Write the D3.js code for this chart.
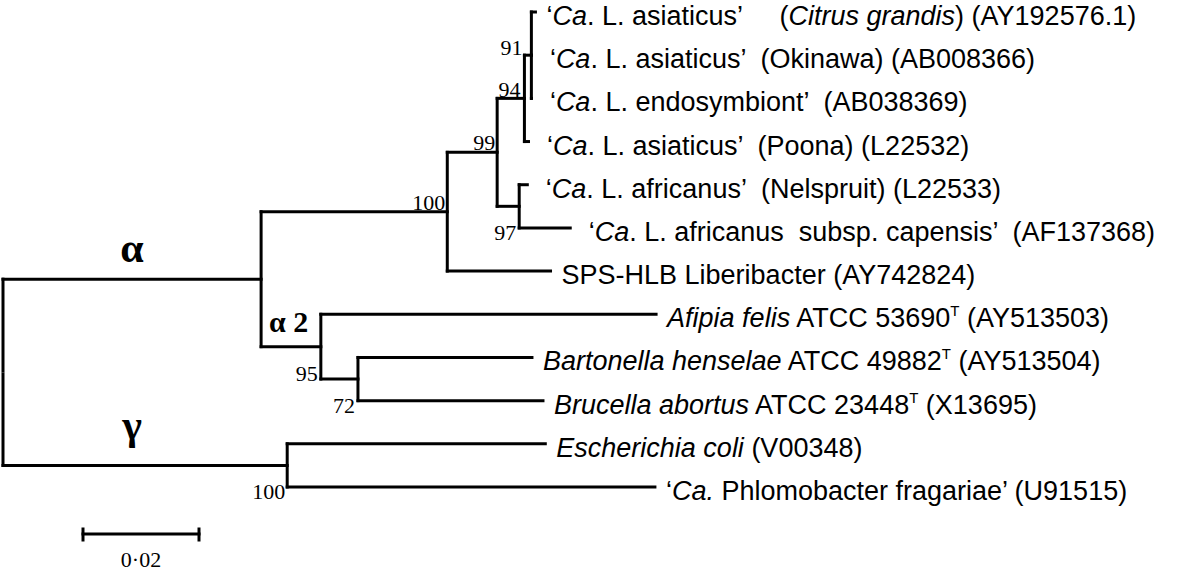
<!DOCTYPE html>
<html>
<head>
<meta charset="utf-8">
<script src="https://cdn.jsdelivr.net/npm/d3@7"></script>
<style>
body { margin: 0; background: #fff; }
svg { display: block; }
.branch { fill: none; stroke: #000; stroke-width: 3; stroke-linecap: square; }
.taxon { font: 27px "Liberation Sans", Arial, sans-serif; white-space: pre; }
.boot { font: 22px "Liberation Serif", "Times New Roman", serif; }
.clade { font-family: "Liberation Serif", "Times New Roman", serif; font-weight: bold; }
</style>
</head>
<body>
<svg id="chart" width="1184" height="571"></svg>
<script>
// tree topology, listed in drawing order (parent before children)
const nodeIds = ['root', 'alpha', 'n100', 'n99', 'n94', 'n91', 'citrus', 'okinawa', 'endo',
  'poona', 'n97', 'nelspruit', 'capensis', 'sps', 'n95', 'afipia', 'n72', 'bartonella',
  'brucella', 'gamma', 'ecoli', 'phlomo'];
const parentIds = ['', 'root', 'alpha', 'n100', 'n99', 'n94', 'n91', 'n91', 'n91',
  'n94', 'n99', 'n97', 'n97', 'n100', 'alpha', 'n95', 'n95', 'n72',
  'n72', 'root', 'gamma', 'gamma'];
// branch lengths, substitutions per site
const branchLengths = [0, 0.0445, 0.0321, 0.0086, 0.0047, 0.0012, 0.0007, 0, 0,
  0.0007, 0.0038, 0.0014, 0.0088, 0.0178, 0.0103, 0.0578, 0.0064, 0.0300,
  0.0319, 0.0490, 0.0445, 0.0634];

// bootstrap values (%)
const bootNodes = ['n91', 'n94', 'n99', 'n100', 'n97', 'n95', 'n72', 'gamma'];
const bootValues = [91, 94, 99, 100, 97, 95, 72, 100];

// leaf labels, <i> = italic, <sup> = superscript
const leafIds = ['citrus', 'okinawa', 'endo', 'poona', 'nelspruit', 'capensis', 'sps',
  'afipia', 'bartonella', 'brucella', 'ecoli', 'phlomo'];
const leafLabels = [
  '‘<i>Ca</i>. L. asiaticus’     (<i>Citrus grandis</i>) (AY192576.1)',
  ' ‘<i>Ca</i>. L. asiaticus’  (Okinawa) (AB008366)',
  ' ‘<i>Ca</i>. L. endosymbiont’  (AB038369)',
  ' ‘<i>Ca</i>. L. asiaticus’  (Poona) (L22532)',
  ' ‘<i>Ca</i>. L. africanus’  (Nelspruit) (L22533)',
  ' ‘<i>Ca</i>. L. africanus  subsp. capensis’  (AF137368)',
  'SPS-HLB Liberibacter (AY742824)',
  '<i>Afipia felis</i> ATCC 53690<sup>T</sup> (AY513503)',
  '<i>Bartonella henselae</i> ATCC 49882<sup>T</sup> (AY513504)',
  '<i>Brucella abortus</i> ATCC 23448<sup>T</sup> (X13695)',
  '<i>Escherichia coli</i> (V00348)',
  '‘<i>Ca.</i> Phlomobacter fragariae’ (U91515)'
];

// clade names
const cladeNodes = ['alpha', 'n95', 'gamma'];
const cladeNames = ['α', 'α 2', 'γ'];

const scaleBarValue = 0.02;
const scaleBarLabel = '0·02';

// ---- layout ----
const svg = d3.select('#chart');

const rows = nodeIds.map((id, i) => ({ id, parent: parentIds[i] || null, len: branchLengths[i] }));
const root = d3.stratify().id(d => d.id).parentId(d => d.parent)(rows);
root.eachBefore(n => { n.dist = n.parent ? n.parent.dist + n.data.len : 0; });

const x = d3.scaleLinear().domain([0, 0.1]).range([3, 583]);
const y = d3.scalePoint().domain(leafIds).range([12, 487]);

root.eachAfter(n => {
  n.px = x(n.dist);
  if (n.children) {
    n.py = (n.children[0].py + n.children[n.children.length - 1].py) / 2;
  } else {
    n.py = y(n.id);
  }
});

const nodes = root.descendants();
const byId = new Map(nodes.map(n => [n.id, n]));
const g = svg.append('g');

// horizontal branches
g.selectAll('line.h')
  .data(nodes.filter(n => n.parent))
  .join('line')
  .attr('class', 'branch')
  .attr('x1', d => d.parent.px).attr('x2', d => d.px)
  .attr('y1', d => d.py).attr('y2', d => d.py);

// vertical connectors (root drawn with a small break at its midpoint)
const verts = [];
nodes.filter(n => n.children).forEach(n => {
  const y0 = n.children[0].py, y1 = n.children[n.children.length - 1].py;
  if (n === root) {
    verts.push({ x: n.px, y0, y1: n.py - 1.5 }, { x: n.px, y0: n.py + 1.5, y1 });
  } else {
    verts.push({ x: n.px, y0, y1 });
  }
});
g.selectAll('line.v')
  .data(verts)
  .join('line')
  .attr('class', 'branch')
  .attr('x1', d => d.x).attr('x2', d => d.x)
  .attr('y1', d => d.y0).attr('y2', d => d.y1);

// leaf labels
function addRich(sel, str) {
  let italic = false, sup = false, wasSup = false;
  str.split(/(<\/?i>|<\/?sup>)/).forEach(part => {
    if (part === '<i>') { italic = true; return; }
    if (part === '</i>') { italic = false; return; }
    if (part === '<sup>') { sup = true; return; }
    if (part === '</sup>') { sup = false; return; }
    if (!part) return;
    const t = sel.append('tspan').text(part);
    if (italic) t.attr('font-style', 'italic');
    if (sup) t.attr('font-size', 15).attr('dy', -11);
    else if (wasSup) t.attr('dy', 11);
    wasSup = sup;
  });
}

const leafGap = 11;
leafIds.forEach((id, i) => {
  const n = byId.get(id);
  const t = g.append('text')
    .attr('class', 'taxon')
    .attr('x', n.px + leafGap)
    .attr('y', n.py + 13);
  addRich(t, leafLabels[i]);
});

// bootstrap labels: offset from node, 'up' sits above the incoming branch,
// 'down' sits below the lower child
const bootPlace = { n91: [-9, 0, 'up'], n94: [-4, -1, 'up'], n99: [-2, -2, 'up'], n100: [-2, -2, 'up'],
  n97: [-3, 12, 'down'], n95: [-3, 2, 'down'], n72: [-3, 12, 'down'], gamma: [-2, 12, 'down'] };
g.selectAll('text.boot')
  .data(bootNodes.map((id, i) => ({ node: byId.get(id), value: bootValues[i], place: bootPlace[id] })))
  .join('text')
  .attr('class', 'boot')
  .attr('text-anchor', 'end')
  .attr('x', d => d.node.px + d.place[0])
  .attr('y', d => {
    const c = d.node.children;
    const base = d.place[2] === 'up' ? d.node.py : c[c.length - 1].py;
    return base + d.place[1];
  })
  .text(d => d.value);

// clade names
const alphaNode = byId.get('alpha');
const cladeX = (x(0) + alphaNode.px) / 2;
cladeNodes.forEach((id, i) => {
  const n = byId.get(id);
  const t = g.append('text').attr('class', 'clade').text(cladeNames[i]);
  if (id === 'n95') {
    t.attr('x', n.parent.px + 8).attr('y', n.py - 15).attr('font-size', 30);
  } else {
    t.attr('x', cladeX).attr('y', n.py - (id === 'gamma' ? 26 : 17))
      .attr('text-anchor', 'middle').attr('font-size', 42);
  }
});

// scale bar
const barX0 = 83, barY = 534;
const barLen = x(scaleBarValue) - x(0);
const bar = g.append('g').attr('transform', `translate(${barX0},${barY})`);
bar.append('line').attr('class', 'branch').attr('x1', 0).attr('x2', barLen).attr('y1', 0).attr('y2', 0);
[0, barLen].forEach(bx => bar.append('line').attr('class', 'branch')
  .attr('x1', bx).attr('x2', bx).attr('y1', -5).attr('y2', 6));
bar.append('text').attr('class', 'boot').attr('text-anchor', 'middle')
  .attr('x', barLen / 2).attr('y', 33).text(scaleBarLabel);
</script>
</body>
</html>
